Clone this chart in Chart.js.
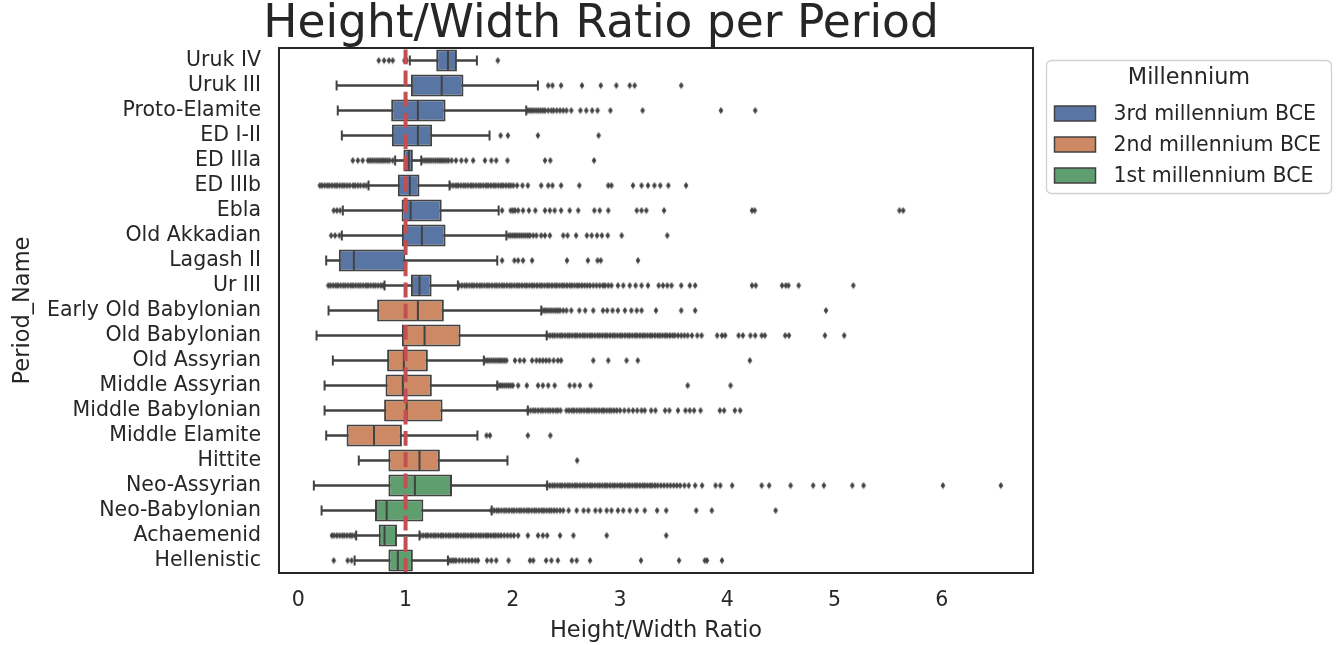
<!DOCTYPE html>
<html>
<head>
<meta charset="utf-8">
<script src="https://cdn.jsdelivr.net/npm/chart.js@4.4.1/dist/chart.umd.min.js"></script>
<style>
html,body{margin:0;padding:0;background:#ffffff;}
#wrap{position:relative;width:1338px;height:645px;}
</style>
</head>
<body>
<div id="wrap"><canvas id="c" width="1338" height="645"></canvas></div>
<script>
// ---------------- data ----------------
const periods = ['Uruk IV','Uruk III','Proto-Elamite','ED I-II','ED IIIa','ED IIIb','Ebla','Old Akkadian','Lagash II','Ur III',
  'Early Old Babylonian','Old Babylonian','Old Assyrian','Middle Assyrian','Middle Babylonian','Middle Elamite','Hittite',
  'Neo-Assyrian','Neo-Babylonian','Achaemenid','Hellenistic'];
const millennium = [0,0,0,0,0,0,0,0,0,0, 1,1,1,1,1,1,1, 2,2,2,2];
const millenniumLabels = ['3rd millennium BCE','2nd millennium BCE','1st millennium BCE'];

const q1          = [1.286,1.05,0.866,0.872,0.98,0.928,0.963,0.966,0.378,1.05, 0.735,0.966,0.828,0.813,0.80,0.45,0.84, 0.84,0.715,0.75,0.84];
const median      = [1.395,1.337,1.115,1.115,1.03,1.04,1.047,1.152,0.518,1.13, 1.115,1.177,0.984,0.975,1.01,0.706,1.13, 1.087,0.824,0.804,0.928];
const q3          = [1.479,1.54,1.373,1.248,1.068,1.13,1.337,1.373,0.997,1.243, 1.357,1.513,1.208,1.245,1.345,0.966,1.32, 1.433,1.166,0.92,1.068];
const whiskerLow  = [1.04,0.357,0.368,0.406,0.903,0.655,0.415,0.406,0.26,0.804, 0.282,0.17,0.322,0.245,0.245,0.26,0.564, 0.145,0.217,0.54,0.525];
const whiskerHigh = [1.665,2.234,2.125,1.783,1.146,1.41,1.868,1.94,1.855,1.488, 2.265,2.316,1.73,1.855,2.14,1.67,1.95, 2.32,1.803,1.13,1.395];

const outliers = [
  // Uruk IV
  [0.75,0.80,0.845,0.88,0.99,1.01,1.86],
  // Uruk III
  [2.33,2.37,2.45,2.645,2.82,2.965,3.09,3.136,3.57],
  // Proto-Elamite
  [2.14,2.16,2.18,2.2,2.22,2.24,2.26,2.28,2.30,2.33,2.36,2.38,2.41,2.44,2.47,2.5,2.545,2.63,2.685,2.74,2.79,2.91,3.21,3.94,4.26],
  // ED I-II
  [1.886,1.954,2.234,2.80],
  // ED IIIa
  [0.508,0.555,0.60,0.65,0.67,0.69,0.71,0.73,0.75,0.77,0.79,0.81,0.83,0.85,0.88,
   1.16,1.18,1.20,1.22,1.24,1.26,1.28,1.30,1.32,1.34,1.36,1.38,1.40,1.43,1.47,1.52,1.565,1.63,1.74,1.80,1.845,1.95,2.30,2.35,2.757],
  // ED IIIb
  [0.20,0.22,0.245,0.27,0.29,0.315,0.34,0.36,0.385,0.41,0.43,0.455,0.48,0.51,0.53,0.555,0.58,0.61,0.635,
   1.42,1.445,1.47,1.49,1.515,1.54,1.56,1.585,1.61,1.63,1.655,1.68,1.70,1.725,1.75,1.77,1.795,1.82,1.84,1.865,1.89,1.91,1.935,1.96,1.98,2.005,2.04,2.09,2.14,
   2.265,2.33,2.37,2.45,2.62,2.89,2.92,3.12,3.20,3.26,3.32,3.375,3.45,3.615],
  // Ebla
  [0.33,0.36,0.39,1.90,1.98,2.0,2.02,2.05,2.095,2.15,2.21,2.30,2.345,2.39,2.45,2.53,2.61,2.76,2.81,2.89,3.155,3.20,3.245,3.41,4.23,4.255,5.605,5.64],
  // Old Akkadian
  [0.306,0.343,0.384,1.96,1.98,2.0,2.02,2.04,2.06,2.08,2.10,2.12,2.14,2.16,2.19,2.22,2.265,2.30,2.345,2.47,2.51,2.59,2.69,2.735,2.785,2.83,2.885,3.015,3.44],
  // Lagash II
  [1.90,2.015,2.05,2.095,2.18,2.505,2.70,2.79,2.82,3.167],
  // Ur III
  [0.28,0.30,0.325,0.35,0.37,0.395,0.42,0.44,0.465,0.49,0.51,0.535,0.56,0.58,0.605,0.63,0.65,0.675,0.70,0.72,0.745,0.77,0.79,
   1.50,1.525,1.55,1.57,1.595,1.62,1.64,1.665,1.69,1.71,1.735,1.76,1.78,1.805,1.83,1.85,1.875,1.90,1.92,1.945,1.97,1.99,2.015,2.04,2.06,2.085,
   2.11,2.13,2.155,2.18,2.20,2.225,2.25,2.27,2.295,2.32,2.34,2.365,2.39,2.41,2.435,2.46,2.48,2.505,2.53,2.55,2.575,2.60,2.62,2.645,2.67,2.695,
   2.72,2.75,2.78,2.81,2.84,2.86,2.89,2.92,2.98,3.03,3.09,3.145,3.20,3.26,3.36,3.40,3.44,3.48,3.57,3.65,3.70,4.23,4.265,4.51,4.545,4.57,4.665,5.175],
  // Early Old Babylonian
  [2.28,2.30,2.32,2.34,2.36,2.38,2.40,2.42,2.44,2.47,2.50,2.545,2.62,2.675,2.75,2.84,2.88,2.93,2.98,3.045,3.105,3.155,3.20,3.335,3.57,3.70,4.92],
  // Old Babylonian
  [2.32,2.345,2.37,2.39,2.415,2.44,2.46,2.485,2.51,2.53,2.555,2.58,2.60,2.625,2.65,2.67,2.695,2.72,2.74,2.765,2.79,2.81,2.835,2.86,2.88,2.905,
   2.93,2.95,2.975,3.00,3.02,3.045,3.07,3.09,3.115,3.14,3.16,3.185,3.21,3.23,3.255,3.28,3.30,3.325,3.35,3.37,3.395,3.42,3.44,3.465,3.49,3.51,
   3.54,3.57,3.60,3.63,3.67,3.72,3.76,3.905,3.95,3.98,4.105,4.145,4.215,4.26,4.32,4.35,4.54,4.575,4.91,5.09],
  // Old Assyrian
  [1.74,1.76,1.78,1.80,1.82,1.84,1.86,1.88,1.90,1.92,1.94,2.02,2.065,2.105,2.18,2.22,2.25,2.28,2.31,2.34,2.38,2.42,2.45,2.75,2.89,3.06,3.165,4.21],
  // Middle Assyrian
  [1.86,1.88,1.90,1.92,1.94,1.96,1.98,2.0,2.05,2.13,2.235,2.28,2.33,2.39,2.53,2.575,2.625,2.725,3.63,4.03],
  // Middle Babylonian
  [2.14,2.165,2.19,2.21,2.235,2.26,2.28,2.305,2.33,2.35,2.375,2.40,2.42,2.445,2.50,2.525,2.55,2.57,2.595,2.62,2.64,2.665,2.69,2.71,2.735,2.76,
   2.78,2.805,2.83,2.85,2.875,2.90,2.92,2.945,2.97,3.00,3.04,3.08,3.12,3.16,3.20,3.23,3.29,3.33,3.42,3.46,3.54,3.61,3.65,3.69,3.75,3.93,3.97,4.07,4.12],
  // Middle Elamite
  [1.755,1.787,2.14,2.35],
  // Hittite
  [2.60],
  // Neo-Assyrian
  [2.32,2.345,2.37,2.39,2.415,2.44,2.46,2.485,2.51,2.53,2.555,2.58,2.60,2.625,2.65,2.67,2.695,2.72,2.74,2.765,2.79,2.81,2.835,2.86,2.88,2.905,
   2.93,2.95,2.975,3.00,3.02,3.045,3.07,3.09,3.115,3.14,3.16,3.185,3.21,3.23,3.255,3.28,3.30,3.325,3.35,3.38,3.41,3.44,3.47,3.50,3.53,3.56,3.60,3.64,
   3.70,3.765,3.89,3.935,4.045,4.32,4.39,4.59,4.80,4.90,5.165,5.27,6.01,6.55],
  // Neo-Babylonian
  [1.80,1.825,1.85,1.87,1.895,1.92,1.94,1.965,1.99,2.01,2.035,2.06,2.08,2.105,2.13,2.15,2.175,2.20,2.22,2.245,2.27,2.29,2.315,2.34,2.36,2.385,2.41,2.44,2.47,2.52,
   2.595,2.66,2.705,2.77,2.815,2.875,2.92,2.98,3.03,3.09,3.155,3.23,3.345,3.43,3.71,3.855,4.45],
  // Achaemenid
  [0.313,0.335,0.36,0.385,0.41,0.43,0.455,0.48,0.50,0.525,
   1.14,1.165,1.19,1.21,1.235,1.26,1.28,1.305,1.33,1.35,1.375,1.40,1.42,1.445,1.47,1.49,1.515,1.54,1.56,1.585,1.61,1.63,1.655,1.68,1.70,1.725,1.75,
   1.77,1.795,1.82,1.84,1.865,1.89,1.92,1.95,1.98,2.01,2.05,2.14,2.235,2.28,2.32,2.44,2.565,2.875,3.43],
  // Hellenistic
  [0.33,0.46,0.497,1.41,1.43,1.45,1.47,1.50,1.53,1.56,1.59,1.62,1.65,1.675,1.76,1.80,1.845,1.96,2.16,2.19,2.31,2.36,2.42,2.55,2.595,2.72,3.195,3.55,3.79,3.81,3.95]
];

const xTicks = [0,1,2,3,4,5,6];
const referenceLine = 1;
const xRange = [-0.18, 6.85];

// ---------------- styling ----------------
const FONT = "'DejaVu Sans', sans-serif";
const TEXT = '#262626';
const GRAY = '#424242';
const PALETTE = ['#5975a4', '#cc8963', '#5f9e6e'];
const RED = '#c44e52';

function makeDiamond() {
  const c = document.createElement('canvas');
  c.width = 6; c.height = 8;
  const g = c.getContext('2d');
  g.fillStyle = GRAY;
  g.beginPath();
  g.moveTo(3, 0.6); g.lineTo(5.4, 4); g.lineTo(3, 7.4); g.lineTo(0.6, 4);
  g.closePath(); g.fill();
  return c;
}

const outlierPoints = outliers.flatMap((vals, i) => vals.map(v => ({x: v, y: periods[i]})));
const capPoints = periods.flatMap((p, i) => [{x: whiskerLow[i], y: p}, {x: whiskerHigh[i], y: p}]);
const medianPoints = periods.map((p, i) => ({x: median[i], y: p}));

const decorPlugin = {
  id: 'decor',
  afterDatasetsDraw(chart) {
    const {ctx, chartArea: a, scales: {x}} = chart;
    ctx.save();
    ctx.beginPath(); ctx.rect(a.left, a.top, a.right - a.left, a.bottom - a.top); ctx.clip();
    const px = x.getPixelForValue(referenceLine);
    ctx.strokeStyle = RED; ctx.lineWidth = 4; ctx.setLineDash([14.8, 6.4]);
    ctx.beginPath(); ctx.moveTo(px, a.bottom); ctx.lineTo(px, a.top); ctx.stroke();
    ctx.restore();
  },
  afterDraw(chart) {
    const {ctx, chartArea: a} = chart;
    ctx.save();
    // frame
    ctx.strokeStyle = TEXT; ctx.lineWidth = 2;
    ctx.strokeRect(a.left, a.top, a.right - a.left, a.bottom - a.top);
    // title
    ctx.fillStyle = TEXT;
    ctx.font = "45.5px 'DejaVu Sans'";
    ctx.textAlign = 'center'; ctx.textBaseline = 'middle';
    ctx.fillText('Height/Width Ratio per Period', 601, 25);
    // legend
    const lx = a.right + 13.5, ly = 60.5, lw = 285, lh = 133;
    ctx.fillStyle = '#ffffff'; ctx.strokeStyle = '#d0d0d0'; ctx.lineWidth = 1.3;
    ctx.beginPath(); ctx.roundRect(lx, ly, lw, lh, 5); ctx.fill(); ctx.stroke();
    ctx.fillStyle = TEXT;
    ctx.font = "22.4px 'DejaVu Sans'";
    ctx.textAlign = 'center';
    ctx.fillText('Millennium', lx + 142.5, ly + 18);
    ctx.font = "20.5px 'DejaVu Sans'";
    ctx.textAlign = 'left';
    millenniumLabels.forEach((lab, k) => {
      const cy = ly + 53 + k * 31;
      ctx.fillStyle = PALETTE[k];
      ctx.fillRect(lx + 8, cy - 7.5, 41, 15);
      ctx.strokeStyle = GRAY; ctx.lineWidth = 1.5;
      ctx.strokeRect(lx + 8, cy - 7.5, 41, 15);
      ctx.fillStyle = TEXT;
      ctx.fillText(lab, lx + 67, cy + 1);
    });
    ctx.restore();
  }
};

new Chart(document.getElementById('c'), {
  data: {
    labels: periods,
    datasets: [
      {type: 'scatter', label: 'outliers', data: outlierPoints, pointStyle: makeDiamond(), pointRadius: 3, order: 1},
      {type: 'scatter', label: 'medians', data: medianPoints, pointStyle: 'line', pointRotation: 90, pointRadius: 10,
       pointBorderWidth: 2, pointBorderColor: GRAY, order: 2},
      {type: 'scatter', label: 'caps', data: capPoints, pointStyle: 'line', pointRotation: 90, pointRadius: 5,
       pointBorderWidth: 2, pointBorderColor: GRAY, order: 3},
      {type: 'bar', label: 'boxes', data: periods.map((p, i) => [q1[i], q3[i]]),
       backgroundColor: periods.map((p, i) => PALETTE[millennium[i]]), borderColor: GRAY, borderWidth: 2,
       borderSkipped: false, barPercentage: 0.88, categoryPercentage: 1, grouped: false, order: 4},
      {type: 'bar', label: 'whiskers', data: periods.map((p, i) => [whiskerLow[i], whiskerHigh[i]]),
       backgroundColor: GRAY, borderWidth: 0, barThickness: 2, grouped: false, order: 5}
    ]
  },
  options: {
    indexAxis: 'y',
    responsive: false,
    animation: false,
    events: [],
    layout: {padding: {left: 0, top: 48, right: 305, bottom: 0}},
    plugins: {legend: {display: false}, tooltip: {enabled: false}, title: {display: false}},
    scales: {
      x: {
        type: 'linear', position: 'bottom', min: xRange[0], max: xRange[1],
        afterBuildTicks: s => { s.ticks = xTicks.map(v => ({value: v})); },
        afterFit: s => { s.height = 72; },
        grid: {display: false, drawTicks: false}, border: {display: false},
        ticks: {color: TEXT, font: {family: FONT, size: 20.5}, padding: 15},
        title: {display: true, text: 'Height/Width Ratio', color: TEXT, font: {family: FONT, size: 22.5}, padding: {top: 0, bottom: 0}}
      },
      y: {
        type: 'category', position: 'left', offset: true,
        afterFit: s => { s.width = 279; },
        grid: {display: false, drawTicks: false}, border: {display: false},
        ticks: {color: TEXT, font: {family: FONT, size: 20.5}, padding: 18, autoSkip: false},
        title: {display: true, text: 'Period_Name', color: TEXT, font: {family: FONT, size: 22.5}, padding: {top: 10, bottom: 0}}
      }
    }
  },
  plugins: [decorPlugin]
});
</script>
</body>
</html>
